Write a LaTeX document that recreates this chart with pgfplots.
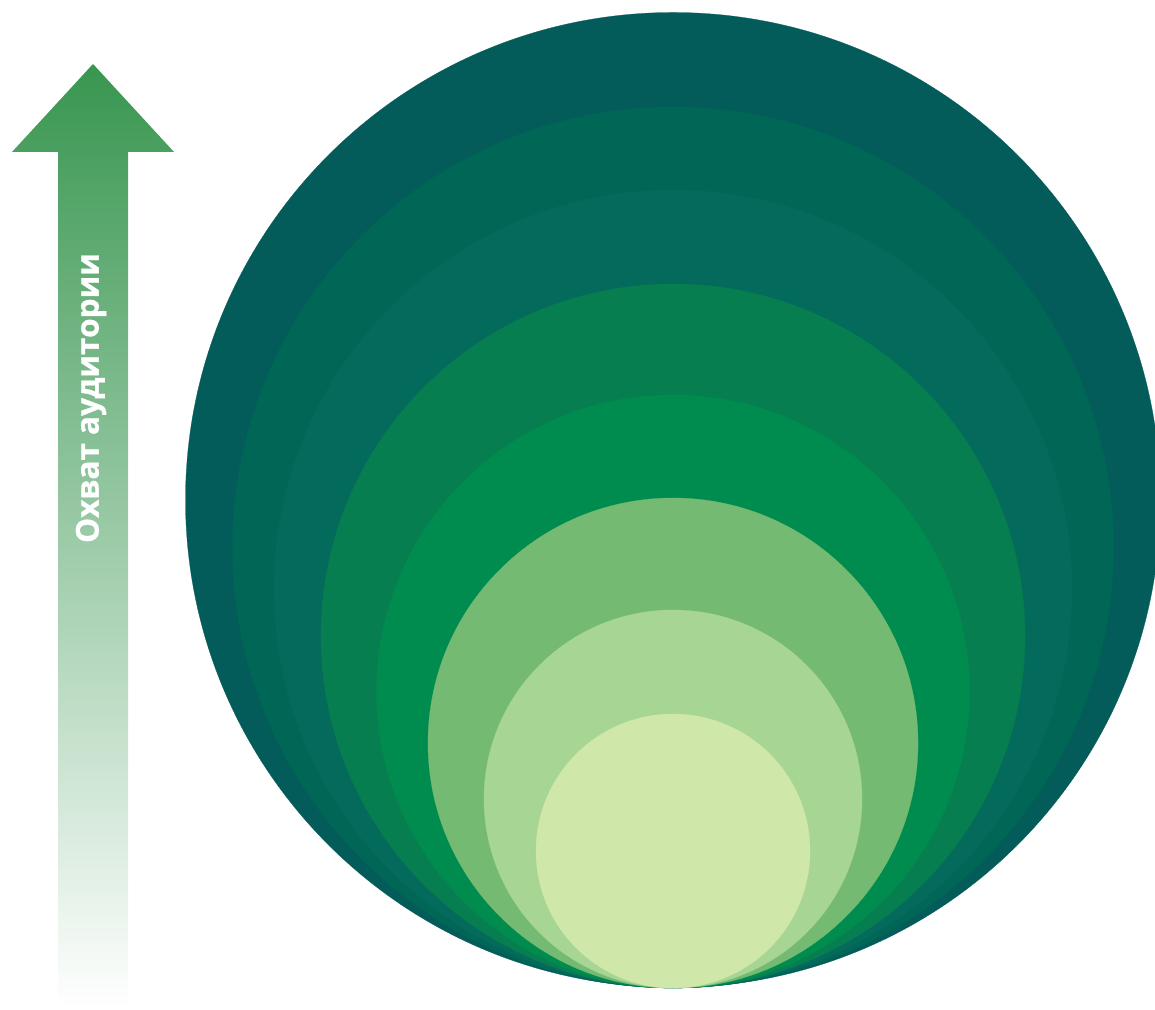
\documentclass[border=0pt]{standalone}
\usepackage{pgfplots}
\pgfplotsset{compat=1.18}
\usepackage{pgfplotstable}
\usepackage{fontspec}
\setmainfont{Open Sans}
\newfontfamily\lbl[FakeBold=0.9]{Open Sans Bold}

\definecolor{c0}{RGB}{3,92,90}
\definecolor{c1}{RGB}{0,102,86}
\definecolor{c2}{RGB}{4,107,92}
\definecolor{c3}{RGB}{7,126,80}
\definecolor{c4}{RGB}{0,140,78}
\definecolor{c5}{RGB}{116,186,114}
\definecolor{c6}{RGB}{166,213,148}
\definecolor{c7}{RGB}{207,232,170}
\definecolor{arrowgreen}{RGB}{56,150,80}

% nested circles, all touching at the bottom (pixel units of the original)
% x, y = centre, r = radius, c = colour class
\pgfplotstableread{
x   y      r      c
673 509    487.5  a
673 461.5  440.5  b
673 420    399    c
673 373    352    d
673 317.5  296.5  e
673 266    245    f
673 210    189    g
673 158    137    h
}\circles

\begin{document}
\begin{tikzpicture}
\begin{axis}[
  scale only axis, width=462pt, height=403.6pt,
  xmin=0, xmax=1155, ymin=0, ymax=1009,
  hide axis, clip marker paths=true,
]
% audience arrow
\addplot[draw=none, shading=axis, top color=arrowgreen, bottom color=white]
  coordinates {(58,0) (58,857) (12,857) (93,945) (174,857) (128,857) (128,0)} -- cycle;
\addplot[scatter, only marks, mark=*,
  point meta=explicit symbolic,
  scatter/classes={
    a={draw=c0,fill=c0}, b={draw=c1,fill=c1}, c={draw=c2,fill=c2}, d={draw=c3,fill=c3},
    e={draw=c4,fill=c4}, f={draw=c5,fill=c5}, g={draw=c6,fill=c6}, h={draw=c7,fill=c7}},
  visualization depends on={0.4*\thisrow{r} \as \rr},
  scatter/@pre marker code/.append style={/tikz/mark size=\rr},
  mark options={line width=0.1pt}]
  table[x=x, y=y, meta=c] {\circles};
\node[rotate=90, text=white, font=\lbl\fontsize{12.6}{14}\selectfont]
  at (axis cs:91,611) {Охват аудитории};
\coordinate (BL) at (rel axis cs:0,0);
\coordinate (TR) at (rel axis cs:1,1);
\end{axis}
\pgfresetboundingbox
\path (BL) rectangle (TR);
\end{tikzpicture}
\end{document}
